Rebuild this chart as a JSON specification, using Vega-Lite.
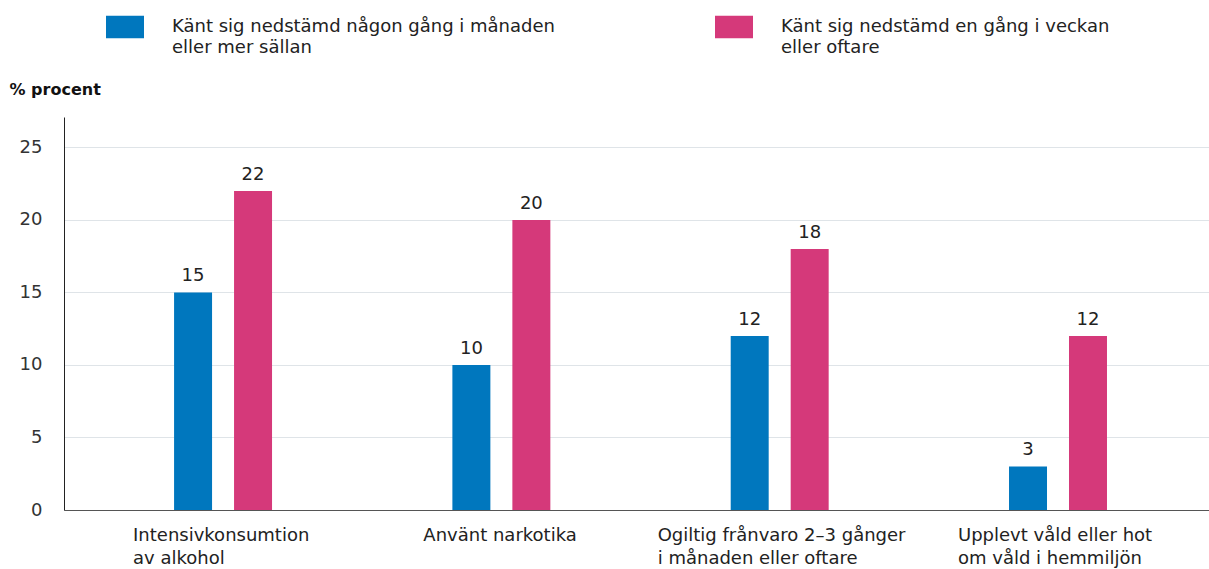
{
  "$schema": "https://vega.github.io/schema/vega-lite/v6.json",
  "width": 1145,
  "height": 393,
  "autosize": {"type": "none"},
  "padding": {"left": 64, "top": 117, "right": 0, "bottom": 59},
  "background": "white",
  "config": {"view": {"stroke": null}, "font": "DejaVu Sans"},
  "data": {
    "values": [
      {"kategori": "Intensivkonsumtion\nav alkohol", "grupp": "Känt sig nedstämd någon gång i månaden eller mer sällan", "procent": 15},
      {"kategori": "Intensivkonsumtion\nav alkohol", "grupp": "Känt sig nedstämd en gång i veckan eller oftare", "procent": 22},
      {"kategori": "Använt narkotika", "grupp": "Känt sig nedstämd någon gång i månaden eller mer sällan", "procent": 10},
      {"kategori": "Använt narkotika", "grupp": "Känt sig nedstämd en gång i veckan eller oftare", "procent": 20},
      {"kategori": "Ogiltig frånvaro 2–3 gånger\ni månaden eller oftare", "grupp": "Känt sig nedstämd någon gång i månaden eller mer sällan", "procent": 12},
      {"kategori": "Ogiltig frånvaro 2–3 gånger\ni månaden eller oftare", "grupp": "Känt sig nedstämd en gång i veckan eller oftare", "procent": 18},
      {"kategori": "Upplevt våld eller hot\nom våld i hemmiljön", "grupp": "Känt sig nedstämd någon gång i månaden eller mer sällan", "procent": 3},
      {"kategori": "Upplevt våld eller hot\nom våld i hemmiljön", "grupp": "Känt sig nedstämd en gång i veckan eller oftare", "procent": 12}
    ]
  },
  "encoding": {
    "x": {
      "field": "kategori",
      "type": "nominal",
      "sort": null,
      "scale": {"paddingInner": 0.648, "paddingOuter": 0.381, "align": 0.519},
      "axis": {
        "title": null,
        "labelAngle": 0,
        "labelAlign": "left",
        "labelBaseline": "top",
        "labelPadding": 16,
        "labelFontSize": 18,
        "labelLineHeight": 23,
        "labelColor": "#222222",
        "labelLimit": 0,
        "ticks": false,
        "domainColor": "#555555",
        "labelExpr": "split(datum.label, '\\n')",
        "labelOffset": {
          "condition": [
            {"test": "indexof(datum.value,'Intensiv')==0", "value": -90},
            {"test": "indexof(datum.value,'Använt')==0", "value": -78},
            {"test": "indexof(datum.value,'Ogiltig')==0", "value": -122}
          ],
          "value": -100
        }
      }
    },
    "xOffset": {
      "field": "grupp",
      "type": "nominal",
      "sort": null,
      "scale": {"paddingInner": 0.3667, "paddingOuter": 0}
    },
    "y": {
      "field": "procent",
      "type": "quantitative",
      "scale": {"domain": [0, 27.1], "nice": false},
      "axis": {
        "values": [0, 5, 10, 15, 20, 25],
        "title": "% procent",
        "titleAngle": 0,
        "titleAlign": "left",
        "titleBaseline": "alphabetic",
        "titleX": -55,
        "titleY": -23,
        "titleFontSize": 16,
        "titleFontWeight": "bold",
        "titleColor": "#111111",
        "labelFontSize": 18,
        "labelColor": "#333333",
        "labelPadding": 22,
        "ticks": false,
        "domainColor": "#222222",
        "gridColor": "#dfe4e8"
      }
    }
  },
  "layer": [
    {
      "mark": {"type": "bar"},
      "encoding": {
        "color": {
          "field": "grupp",
          "type": "nominal",
          "scale": {
            "domain": ["Känt sig nedstämd någon gång i månaden eller mer sällan", "Känt sig nedstämd en gång i veckan eller oftare"],
            "range": ["#0077BE", "#D5397A"]
          },
          "legend": {
            "title": null,
            "orient": "none",
            "legendX": 42,
            "legendY": -109,
            "direction": "horizontal",
            "columns": 2,
            "columnPadding": 160,
            "padding": 0,
            "symbolType": "M-1,-0.59L1,-0.59L1,0.59L-1,0.59Z",
            "symbolSize": 1444,
            "symbolStrokeWidth": 0,
            "symbolOpacity": 1,
            "labelOffset": 28,
            "labelFontSize": 18,
            "labelColor": "#222222",
            "labelBaseline": "top",
            "labelLimit": 0,
            "labelExpr": "indexof(datum.label, 'någon') >= 0 ? ['Känt sig nedstämd någon gång i månaden', 'eller mer sällan'] : ['Känt sig nedstämd en gång i veckan', 'eller oftare']",
            "encode": {"labels": {"update": {"lineHeight": {"value": 21}, "dy": {"value": -9}}}}
          }
        }
      }
    },
    {
      "mark": {"type": "text", "dy": -11, "baseline": "alphabetic", "fontSize": 18, "color": "#222222"},
      "encoding": {"text": {"field": "procent", "type": "quantitative"}}
    }
  ]
}
